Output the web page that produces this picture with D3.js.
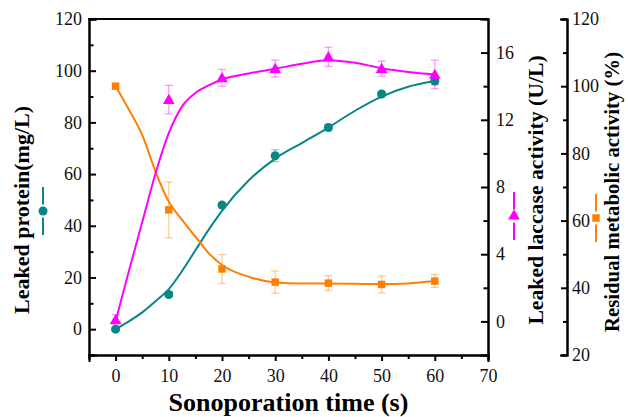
<!DOCTYPE html>
<html>
<head>
<meta charset="utf-8">
<script src="https://cdn.jsdelivr.net/npm/d3@7"></script>
<style>
  html, body { margin: 0; padding: 0; background: #fff; }
  .axis path, .axis line { stroke: #000; stroke-width: 2; }
</style>
</head>
<body>
<svg></svg>
<script>
// measured times (s)
let times = [0, 10, 20, 30, 40, 50, 60];

// leaked protein (mg/L), left axis
let protein = [0, 13.4, 48, 67.1, 78, 91, 96];
let proteinErr = [0.6, 0.8, 1.0, 2.3, 1.2, 1.0, 1.4];

// leaked laccase activity (U/L), first right axis
let laccase = [0.1, 13.2, 14.5, 15.05, 15.75, 15.05, 14.7];
let laccaseErr = [0.3, 0.85, 0.5, 0.5, 0.57, 0.45, 0.85];

// residual metabolic activity (%), second right axis
let residual = [100, 63.2, 45.6, 41.7, 41.4, 41.0, 42.0];
let residualErr = [0.8, 8.3, 4.3, 3.3, 2.2, 2.5, 1.9];

// fitted curves
let fitTimes = [0, 2.5, 5, 7.5, 10, 12.5, 15, 17.5, 20, 25, 30, 35, 40, 45, 50, 55, 60];
let proteinFit = [0, 3, 6.5, 10.8, 15.5, 22.5, 30.5, 38.5, 45.8, 57.5, 66, 72, 78, 84.5, 90, 93.8, 96];
let laccaseFit = [0, 3.0, 5.9, 8.8, 11.2, 12.8, 13.6, 14.05, 14.4, 14.76, 15.04, 15.33, 15.55, 15.4, 15.07, 14.85, 14.7];
let residualFit = [100, 93, 85.5, 74.6, 65.6, 60.2, 55.2, 50.3, 46.8, 43.3, 41.6, 41.3, 41.3, 41.2, 41.1, 41.3, 42.0];

// ticks
let xTicks = [0, 10, 20, 30, 40, 50, 60, 70];
let xMinor = [-5, 5, 15, 25, 35, 45, 55, 65];
let leftTicks = [0, 20, 40, 60, 80, 100, 120];
let leftMinor = [-10, 10, 30, 50, 70, 90, 110];
let lacTicks = [0, 4, 8, 12, 16];
let lacMinor = [2, 6, 10, 14];
let resTicks = [20, 40, 60, 80, 100, 120];
let resMinor = [30, 50, 70, 90, 110];

let width = 628;
let height = 417;

let teal = '#0a8585';
let magenta = '#ff00ff';
let orange = '#ff8000';
let serif = 'Times New Roman, Liberation Serif, Tinos, serif';

let svg = d3.select('svg')
  .attr('width', width)
  .attr('height', height)

let plotLeft = 89, plotRight = 488, plotTop = 19, plotBottom = 355;

let xScale = d3.scaleLinear().domain([-5, 70]).range([plotLeft, plotRight])
let yProtein = d3.scaleLinear().domain([-10, 120]).range([plotBottom, plotTop])
let yLaccase = d3.scaleLinear().domain([-2, 18]).range([plotBottom, plotTop])
let yResidual = d3.scaleLinear().domain([20, 120]).range([plotBottom, plotTop])

let series = [
  {vals: protein, err: proteinErr, fit: proteinFit, y: yProtein, color: teal, shape: d3.symbolCircle, size: 64},
  {vals: residual, err: residualErr, fit: residualFit, y: yResidual, color: orange, shape: d3.symbolSquare, size: 56},
  {vals: laccase, err: laccaseErr, fit: laccaseFit, y: yLaccase, color: magenta, shape: d3.symbolTriangle, size: 60}
]

// fit curves
series.forEach(s => {
  let line = d3.line()
    .x((d, i) => xScale(fitTimes[i]))
    .y(d => s.y(d))
    .curve(d3.curveMonotoneX)
  svg.append('path')
    .datum(s.fit)
    .attr('d', line)
    .attr('fill', 'none')
    .attr('stroke', s.color)
    .attr('stroke-width', 2)
})

// error bars
series.forEach(s => {
  let g = svg.append('g')
    .attr('stroke', s.color)
    .attr('stroke-opacity', 0.4)
    .attr('stroke-width', 1.3)
  times.forEach((t, i) => {
    let cx = xScale(t)
    let y1 = s.y(s.vals[i] + s.err[i])
    let y2 = s.y(s.vals[i] - s.err[i])
    g.append('line').attr('x1', cx).attr('x2', cx).attr('y1', y1).attr('y2', y2)
    g.append('line').attr('x1', cx - 4).attr('x2', cx + 4).attr('y1', y1).attr('y2', y1)
    g.append('line').attr('x1', cx - 4).attr('x2', cx + 4).attr('y1', y2).attr('y2', y2)
  })
})

// markers
series.forEach(s => {
  svg.append('g')
    .selectAll('path')
    .data(s.vals)
    .enter()
    .append('path')
    .attr('d', d3.symbol().type(s.shape).size(s.size))
    .attr('transform', (d, i) => `translate(${xScale(times[i])}, ${s.y(d) + (s.shape === d3.symbolTriangle ? 1 : 0)})`)
    .attr('fill', s.color)
})

// axes
let drawAxis = (axis, tx, ty) => {
  let g = svg.append('g')
    .attr('class', 'axis')
    .attr('transform', `translate(${tx}, ${ty})`)
    .call(axis)
  g.attr('font-family', serif).attr('font-size', 18)
  g.selectAll('text').attr('fill', '#111')
  return g
}

// top frame line
svg.append('line')
  .attr('x1', plotLeft - 1).attr('x2', plotRight + 1)
  .attr('y1', plotTop).attr('y2', plotTop)
  .attr('stroke', '#000').attr('stroke-width', 2)

drawAxis(d3.axisBottom(xScale).tickValues(xTicks).tickSizeOuter(0).tickSize(6).tickPadding(8), 0, plotBottom)
drawAxis(d3.axisBottom(xScale).tickValues(xMinor).tickSizeOuter(0).tickSize(4).tickFormat(''), 0, plotBottom)

drawAxis(d3.axisLeft(yProtein).tickValues(leftTicks).tickSizeOuter(0).tickSize(-7).tickPadding(7), plotLeft, 0)
drawAxis(d3.axisLeft(yProtein).tickValues(leftMinor).tickSizeOuter(0).tickSize(-4.5).tickFormat(''), plotLeft, 0)

drawAxis(d3.axisRight(yLaccase).tickValues(lacTicks).tickSizeOuter(0).tickSize(-7).tickPadding(8), plotRight, 0)
drawAxis(d3.axisRight(yLaccase).tickValues(lacMinor).tickSizeOuter(0).tickSize(-4.5).tickFormat(''), plotRight, 0)

let resX = 567
drawAxis(d3.axisRight(yResidual).tickValues(resTicks).tickSizeOuter(0).tickSize(-6).tickPadding(5), resX, 0)
drawAxis(d3.axisRight(yResidual).tickValues(resMinor).tickSizeOuter(0).tickSize(-4).tickFormat(''), resX, 0)

svg.selectAll('.axis .domain').attr('stroke-linecap', 'square')

// titles
svg.append('text')
  .attr('x', (plotLeft + plotRight) / 2)
  .attr('y', 411)
  .attr('text-anchor', 'middle')
  .attr('font-family', serif)
  .attr('font-weight', 'bold')
  .attr('font-size', 26)
  .text('Sonoporation time (s)')

let vTitle = (text, x, y, size) => {
  svg.append('text')
    .attr('transform', `translate(${x}, ${y}) rotate(-90)`)
    .attr('text-anchor', 'middle')
    .attr('font-family', serif)
    .attr('font-weight', 'bold')
    .attr('font-size', size)
    .text(text)
}
vTitle('Leaked protein(mg/L)', 29, 210, 22)
vTitle('Leaked laccase activity (U/L)', 543, 190, 21.7)
vTitle('Residual metabolic activity (%)', 619, 192, 20.8)

// legend glyphs beside the titles
let glyph = (x, cy, color, shape, size) => {
  let g = svg.append('g').attr('stroke', color).attr('stroke-width', 2)
  g.append('line').attr('x1', x).attr('x2', x).attr('y1', cy - 24).attr('y2', cy - 6.5)
  g.append('line').attr('x1', x).attr('x2', x).attr('y1', cy + 6.5).attr('y2', cy + 24)
  svg.append('path')
    .attr('d', d3.symbol().type(shape).size(size))
    .attr('transform', `translate(${x}, ${cy})`)
    .attr('fill', color)
}
glyph(43, 211, teal, d3.symbolCircle, 64)
glyph(514, 216, magenta, d3.symbolTriangle, 60)
glyph(596, 218, orange, d3.symbolSquare, 56)
</script>
</body>
</html>
